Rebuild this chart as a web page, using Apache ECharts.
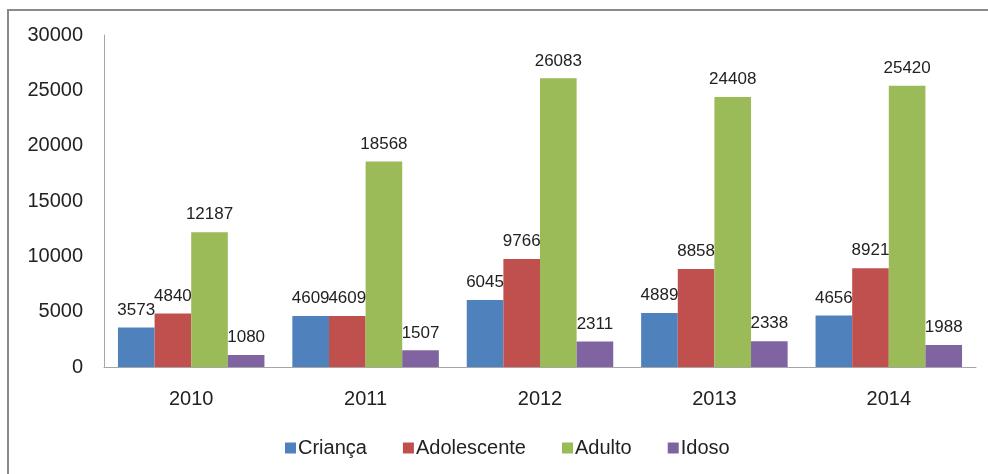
<!DOCTYPE html>
<html>
<head>
<meta charset="utf-8">
<script src="https://cdn.jsdelivr.net/npm/echarts@6/dist/echarts.min.js"></script>
<style>
html,body{margin:0;padding:0;background:#fff;}
#chart{width:988px;height:474px;}
</style>
</head>
<body>
<div id="chart"></div>
<script>
const years = ['2010', '2011', '2012', '2013', '2014'];
const crianca = [3573, 4609, 6045, 4889, 4656];
const adolescente = [4840, 4609, 9766, 8858, 8921];
const adulto = [12187, 18568, 26083, 24408, 25420];
const idoso = [1080, 1507, 2311, 2338, 1988];
const seriesNames = ['Criança', 'Adolescente', 'Adulto', 'Idoso'];
const colors = ['#4F81BD', '#C0504D', '#9BBB59', '#8064A2'];
const yTicks = { min: 0, max: 30000, interval: 5000 };

const font = 'Liberation Sans, Arial, sans-serif';
const chart = echarts.init(document.getElementById('chart'), null, { renderer: 'canvas' });
const dataSets = [crianca, adolescente, adulto, idoso];

chart.setOption({
  animation: false,
  color: colors,
  textStyle: { fontFamily: font },
  grid: { left: 104, right: 12, top: 35, bottom: 107, containLabel: false },
  graphic: [{
    type: 'rect', silent: true,
    shape: { x: 8, y: 10, width: 1000, height: 500 },
    style: { fill: 'none', stroke: '#8a8a8a', lineWidth: 2 }
  }],
  legend: {
    data: seriesNames,
    bottom: 11,
    left: 280,
    itemWidth: 11, itemHeight: 11,
    itemGap: 36,
    icon: 'rect',
    textStyle: { fontSize: 20, color: '#222', fontFamily: font, padding: [0, 0, 0, -3] }
  },
  xAxis: {
    type: 'category',
    data: years,
    axisLine: { lineStyle: { color: '#a6a6a6', width: 1 } },
    axisTick: { show: false },
    axisLabel: { fontSize: 20, color: '#222', margin: 22 }
  },
  yAxis: {
    type: 'value',
    min: yTicks.min, max: yTicks.max, interval: yTicks.interval,
    axisLine: { show: true, lineStyle: { color: '#a6a6a6', width: 1 } },
    axisTick: { show: false },
    splitLine: { show: false },
    axisLabel: { fontSize: 20, color: '#222', margin: 21, formatter: v => String(v) }
  },
  series: seriesNames.map((n, i) => ({
    name: n,
    type: 'bar',
    data: dataSets[i],
    barGap: '0%',
    barCategoryGap: '16%',
    label: { show: true, position: 'top', fontSize: 17, color: '#222', distance: 9 }
  }))
});
</script>
</body>
</html>
